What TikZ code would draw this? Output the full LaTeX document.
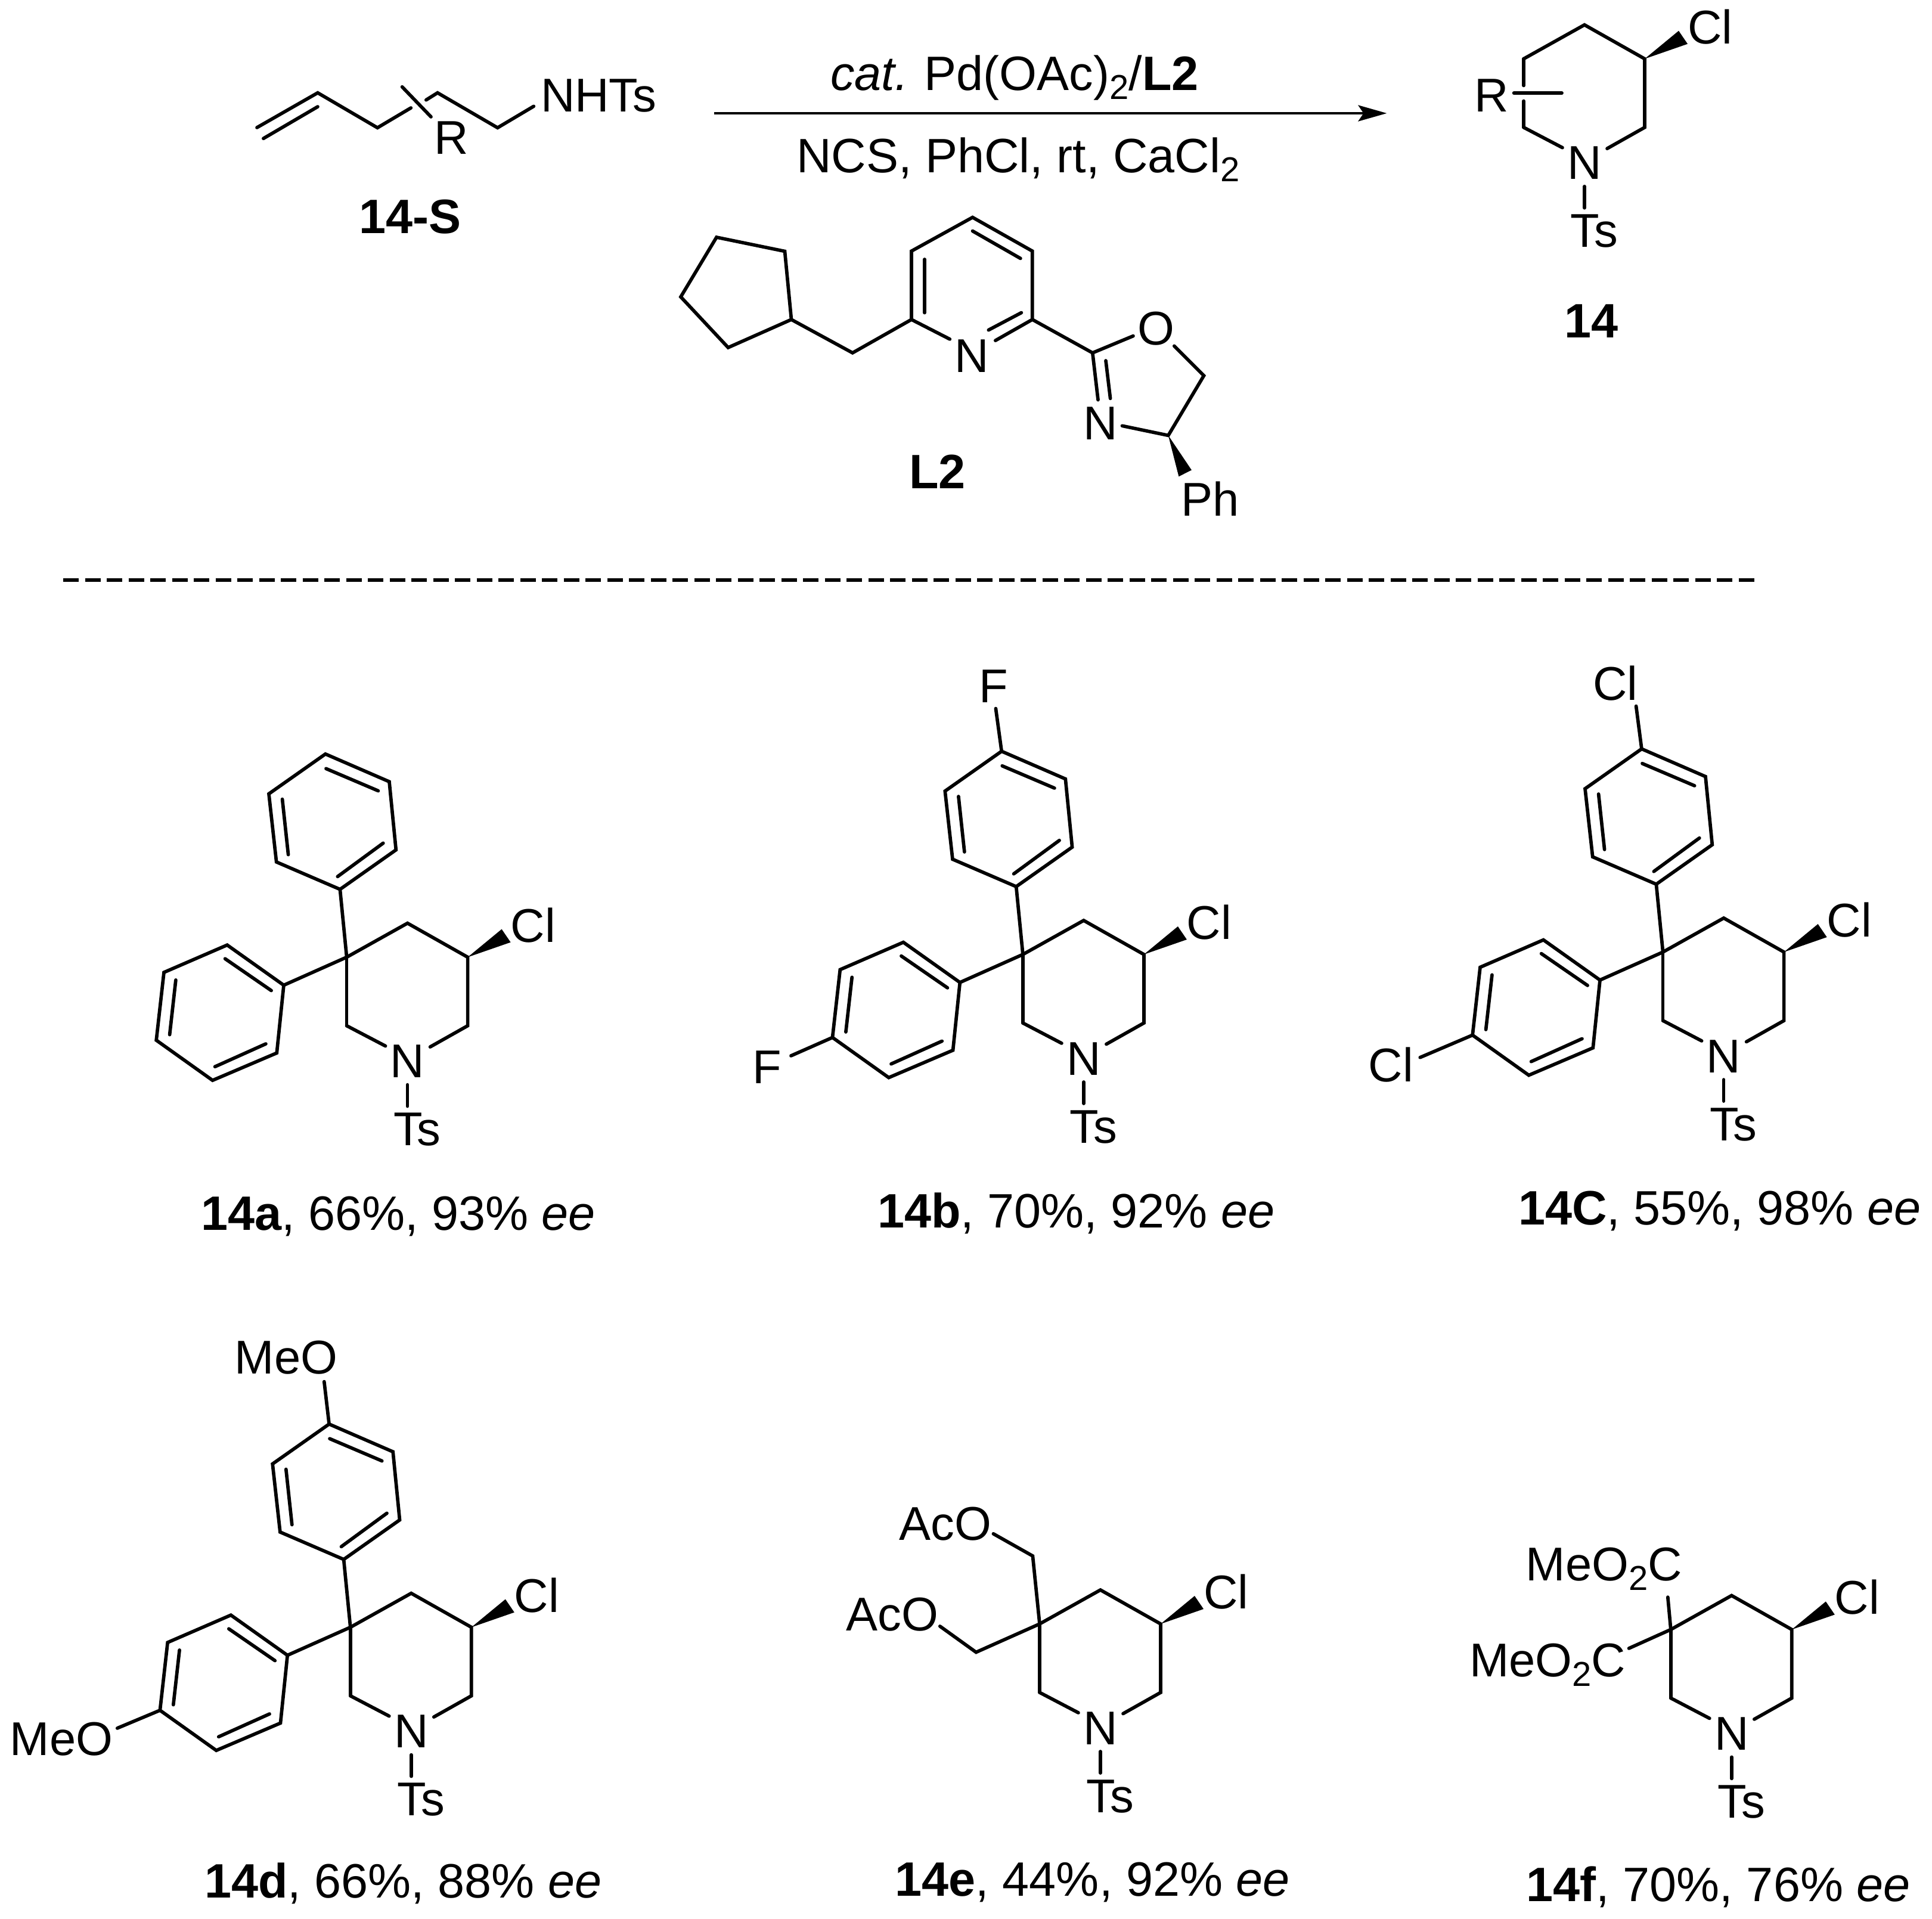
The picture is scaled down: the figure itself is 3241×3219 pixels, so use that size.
\documentclass[tikz,border=0pt]{standalone}
\usepackage{fontspec}
\setmainfont{Liberation Sans}
\usetikzlibrary{arrows.meta}
\newcommand{\subtxt}[1]{\raisebox{-15.6pt}{\fontsize{58}{58}\selectfont #1}}
\tikzset{
  bondline/.style={line width=5.7pt,line cap=round,line join=miter,black},
  wedgefill/.style={fill=black,draw=none},
  atomlbl/.style={inner sep=0pt,outer sep=0pt,font=\fontsize{79.5}{82}\selectfont},
  capt/.style={inner sep=0pt,outer sep=0pt,anchor=base west,font=\fontsize{81}{85}\selectfont},
}
% piperidine core: #1 prefix, #2,#3 position of the ring carbon at upper left
\newcommand{\pipring}[3]{%
  \begin{scope}[shift={(#2,#3)}]
    \coordinate (#1Q) at (0,0);
    \coordinate (#1top) at (102,-57);
    \coordinate (#1CCl) at (203,0);
    \coordinate (#1RL) at (203,115);
    \coordinate (#1LL) at (0,115);
    \coordinate (#1NL) at (65,149);
    \coordinate (#1NR) at (140,150.5);
    \coordinate (#1NT1) at (102,214);
    \coordinate (#1NT2) at (102,250);
    \coordinate (#1W1) at (260,-47);
    \coordinate (#1W2) at (275,-25);
    \node[atomlbl,anchor=base] (#1N) at (102,202) {N};
    \node[atomlbl,anchor=base west] (#1Ts) at (78.5,316) {Ts};
    \node[atomlbl,anchor=base west] (#1Cl) at (275,-25.5) {Cl};
  \end{scope}
  \draw[bondline] (#1Q) -- (#1top) -- (#1CCl) -- (#1RL) -- (#1NR);
  \draw[bondline] (#1LL) -- (#1NL);
  \draw[bondline] (#1NT1) -- (#1NT2);
  \fill[wedgefill] (#1CCl) -- (#1W1) -- (#1W2) -- cycle;
}
% aryl rings on the quaternary carbon
\newcommand{\arylrings}[3]{%
  \begin{scope}[shift={(#2,#3)}]
    \coordinate (#1u1) at (-11.2,-113.8);
    \coordinate (#1u2) at (82.7,-180);
    \coordinate (#1u3) at (71.4,-294.4);
    \coordinate (#1u4) at (-35.7,-340.8);
    \coordinate (#1u5) at (-130.6,-274);
    \coordinate (#1u6) at (-117.9,-159.7);
    \coordinate (#1ua) at (-15.3,-135.2);
    \coordinate (#1ub) at (61.2,-191.3);
    \coordinate (#1uc) at (-34.7,-316.3);
    \coordinate (#1ud) at (53,-279);
    \coordinate (#1ue) at (-108,-265);
    \coordinate (#1uf) at (-98,-172);
    \coordinate (#1l1) at (-105.6,47);
    \coordinate (#1l2) at (-200.5,-20.4);
    \coordinate (#1l3) at (-306.6,25.5);
    \coordinate (#1l4) at (-319.4,139.3);
    \coordinate (#1l5) at (-225,206.6);
    \coordinate (#1l6) at (-117.3,160.7);
    \coordinate (#1la) at (-204,2.6);
    \coordinate (#1lb) at (-126.5,56);
    \coordinate (#1lc) at (-286.7,38.3);
    \coordinate (#1ld) at (-297,130);
    \coordinate (#1le) at (-221,183.7);
    \coordinate (#1lf) at (-135.7,145.4);
  \end{scope}
  \draw[bondline] (#1Q) -- (#1LL);
  \draw[bondline] (#1Q) -- (#1u1);
  \draw[bondline] (#1Q) -- (#1l1);
  \draw[bondline] (#1u1) -- (#1u2) -- (#1u3) -- (#1u4) -- (#1u5) -- (#1u6) -- cycle;
  \draw[bondline] (#1ua) -- (#1ub);
  \draw[bondline] (#1uc) -- (#1ud);
  \draw[bondline] (#1ue) -- (#1uf);
  \draw[bondline] (#1l1) -- (#1l2) -- (#1l3) -- (#1l4) -- (#1l5) -- (#1l6) -- cycle;
  \draw[bondline] (#1la) -- (#1lb);
  \draw[bondline] (#1lc) -- (#1ld);
  \draw[bondline] (#1le) -- (#1lf);
}
\begin{document}
\begin{tikzpicture}[x=1pt,y=-1pt]
\useasboundingbox (0,0) rectangle (3241,3219);

% ---------- 14-S ----------
\coordinate (s1) at (431,214);
\coordinate (s2) at (533,155.7);
\coordinate (s3) at (633.2,214.3);
\coordinate (s4) at (689.3,181);
\coordinate (s5) at (714.8,167.7);
\coordinate (s6) at (734,155.7);
\coordinate (s7) at (834.7,214.3);
\coordinate (s8) at (895.3,178.3);
\coordinate (s9) at (441.9,232.3);
\coordinate (s10) at (533,179);
\coordinate (s11) at (674.6,145.7);
\coordinate (s12) at (723,196);
\draw[bondline] (s1) -- (s2) -- (s3) -- (s4);
\draw[bondline] (s5) -- (s6) -- (s7) -- (s8);
\draw[bondline] (s9) -- (s10);
\draw[bondline] (s11) -- (s12);
\node[atomlbl,anchor=base west] (sNHTs) at (907,187.3) {NHTs};
\node[atomlbl,anchor=base west] (sR) at (728,258.3) {R};
\node[capt,anchor=base,font=\fontsize{81}{85}\selectfont\bfseries] (sLab) at (688,391.7) {14-S};

% ---------- arrow ----------
\coordinate (arrA) at (1198.4,190);
\coordinate (arrB) at (2326.4,190);
\draw[line width=4pt,-{Stealth[length=48pt,width=27pt,inset=9pt]}] (arrA) -- (arrB);
\node[capt,anchor=base] (cond1) at (1702,151.8) {\textit{cat.}\hspace{-3pt} Pd(OAc)\raisebox{-15pt}{\fontsize{58}{58}\selectfont 2}/\textbf{L2}};
\node[capt,anchor=base] (cond2) at (1708,289.6) {NCS, PhCl, rt, CaCl\raisebox{-15pt}{\fontsize{58}{58}\selectfont 2}};

% ---------- L2 ----------
\coordinate (p1) at (1631.5,364.6);
\coordinate (p2) at (1731.8,421.2);
\coordinate (p3) at (1731.8,536);
\coordinate (p4) at (1529,536);
\coordinate (p5) at (1529,421.2);
\coordinate (pNa) at (1593.3,568.9);
\coordinate (pNb) at (1669.8,571.2);
\coordinate (pi1) at (1713.4,524.5);
\coordinate (pi2) at (1658.3,553.6);
\coordinate (pi3) at (1631.5,387.5);
\coordinate (pi4) at (1711.9,433.5);
\coordinate (pi5) at (1551,435);
\coordinate (pi6) at (1551,524.5);
\coordinate (ch2) at (1430.2,591.9);
\coordinate (cp1) at (1327.5,536);
\coordinate (cp2) at (1316.5,421.5);
\coordinate (cp3) at (1202,398);
\coordinate (cp4) at (1142,498);
\coordinate (cp5) at (1221.5,583);
\coordinate (ox2) at (1832.8,591.9);
\coordinate (oxOa) at (1900.9,563.6);
\coordinate (oxOb) at (1969.8,580.4);
\coordinate (ox5) at (2019.5,630.1);
\coordinate (ox4) at (1959.8,730.4);
\coordinate (oxNa) at (1882.5,714.3);
\coordinate (oxNb) at (1842,670.7);
\coordinate (oxd1) at (1855,605);
\coordinate (oxd2) at (1862.6,668.4);
\coordinate (oxw1) at (1998.9,788.5);
\coordinate (oxw2) at (1977.4,799.3);
\draw[bondline] (pNa) -- (p4) -- (p5) -- (p1) -- (p2) -- (p3) -- (pNb);
\draw[bondline] (pi1) -- (pi2);
\draw[bondline] (pi3) -- (pi4);
\draw[bondline] (pi5) -- (pi6);
\draw[bondline] (p4) -- (ch2) -- (cp1);
\draw[bondline] (cp1) -- (cp2) -- (cp3) -- (cp4) -- (cp5) -- cycle;
\draw[bondline] (p3) -- (ox2) -- (oxOa);
\draw[bondline] (ox2) -- (oxNb);
\draw[bondline] (oxd1) -- (oxd2);
\draw[bondline] (oxOb) -- (ox5) -- (ox4) -- (oxNa);
\fill[wedgefill] (ox4) -- (oxw1) -- (oxw2) -- cycle;
\node[atomlbl,anchor=base] (pN) at (1630,624) {N};
\node[atomlbl,anchor=base] (oxO) at (1939,578) {O};
\node[atomlbl,anchor=base] (oxN) at (1845.8,737.3) {N};
\node[atomlbl,anchor=base west] (oxPh) at (1981,865) {Ph};
\node[capt,anchor=base,font=\fontsize{81}{85}\selectfont\bfseries] (L2lab) at (1572.3,819) {L2};

% ---------- 14 ----------
\pipring{g}{2556}{98.7}
\coordinate (gb1) at (2556,143.5);
\coordinate (gb2) at (2556,169.5);
\coordinate (gR1) at (2539.6,156.1);
\coordinate (gR2) at (2620,156.1);
\draw[bondline] (gQ) -- (gb1);
\draw[bondline] (gb2) -- (gLL);
\draw[bondline] (gR1) -- (gR2);
\node[atomlbl,anchor=base west] (gR) at (2473,187.5) {R};
\node[capt,anchor=base,font=\fontsize{81}{85}\selectfont\bfseries] (gLab) at (2669.8,566.4) {14};

% ---------- dashed rule ----------
\coordinate (dashA) at (106,973);
\coordinate (dashB) at (2946,973);
\draw[line width=5.5pt,dash pattern=on 26pt off 10.5pt] (dashA) -- (dashB);

% ---------- 14a ----------
\pipring{a}{581.6}{1605.6}
\arylrings{a}{581.6}{1605.6}
\node[capt] (aLab) at (337,2063) {\textbf{14a}, 66\%, 93\% \textit{ee}};

% ---------- 14b ----------
\pipring{b}{1715.9}{1601}
\arylrings{b}{1715.9}{1601}
\begin{scope}[shift={(1715.9,1601)}]
  \coordinate (bFa) at (-45.5,-412.5);
  \coordinate (bFb) at (-389,170);
  \node[atomlbl,anchor=base west] (bF1) at (-73,-423) {F};
  \node[atomlbl,anchor=base west] (bF2) at (-453,216.6) {F};
\end{scope}
\draw[bondline] (bu4) -- (bFa);
\draw[bondline] (bl4) -- (bFb);
\node[capt] (bLab) at (1472,2059) {\textbf{14b}, 70\%, 92\% \textit{ee}};

% ---------- 14c ----------
\pipring{c}{2789.6}{1597}
\arylrings{c}{2789.6}{1597}
\begin{scope}[shift={(2789.6,1597)}]
  \coordinate (cCa) at (-45,-412.5);
  \coordinate (cCb) at (-407.4,176.8);
  \node[atomlbl,anchor=base west] (cCl1) at (-117.5,-422.6) {Cl};
  \node[atomlbl,anchor=base west] (cCl2) at (-494,217) {Cl};
\end{scope}
\draw[bondline] (cu4) -- (cCa);
\draw[bondline] (cl4) -- (cCb);
\node[capt] (cLab) at (2547,2054) {\textbf{14C}, 55\%, 98\% \textit{ee}};

% ---------- 14d ----------
\pipring{d}{587.8}{2729.6}
\arylrings{d}{587.8}{2729.6}
\begin{scope}[shift={(587.8,2729.6)}]
  \coordinate (dOa) at (-44,-412);
  \coordinate (dOb) at (-391,169.3);
  \node[atomlbl,anchor=base west] (dM1) at (-194,-424.8) {MeO};
  \node[atomlbl,anchor=base west] (dM2) at (-571,215) {MeO};
\end{scope}
\draw[bondline] (du4) -- (dOa);
\draw[bondline] (dl4) -- (dOb);
\node[capt] (dLab) at (343,3183) {\textbf{14d}, 66\%, 88\% \textit{ee}};

% ---------- 14e ----------
\pipring{e}{1744}{2724}
\begin{scope}[shift={(1744,2724)}]
  \coordinate (eu) at (-11.6,-114);
  \coordinate (eua) at (-77.6,-151.2);
  \coordinate (el) at (-106.6,47.5);
  \coordinate (ela) at (-167.2,3.9);
  \node[atomlbl,anchor=base east] (eA1) at (-81,-140.6) {AcO};
  \node[atomlbl,anchor=base east] (eA2) at (-170,11.1) {AcO};
\end{scope}
\draw[bondline] (eQ) -- (eLL);
\draw[bondline] (eQ) -- (eu) -- (eua);
\draw[bondline] (eQ) -- (el) -- (ela);
\node[capt] (eLab) at (1501.8,3180.8) {\textbf{14e}, 44\%, 92\% \textit{ee}};

% ---------- 14f ----------
\pipring{f}{2802.8}{2733.4}
\begin{scope}[shift={(2802.8,2733.4)}]
  \coordinate (fu) at (-5,-54.3);
  \coordinate (fl) at (-70.3,31.6);
  \node[atomlbl,anchor=base east] (fM1) at (19,-81.6) {MeO\subtxt{2}C};
  \node[atomlbl,anchor=base east] (fM2) at (-75.5,79.1) {MeO\subtxt{2}C};
\end{scope}
\draw[bondline] (fQ) -- (fLL);
\draw[bondline] (fQ) -- (fu);
\draw[bondline] (fQ) -- (fl);
\node[capt] (fLab) at (2560.8,3189) {\textbf{14f}, 70\%, 76\% \textit{ee}};
\end{tikzpicture}
\end{document}
